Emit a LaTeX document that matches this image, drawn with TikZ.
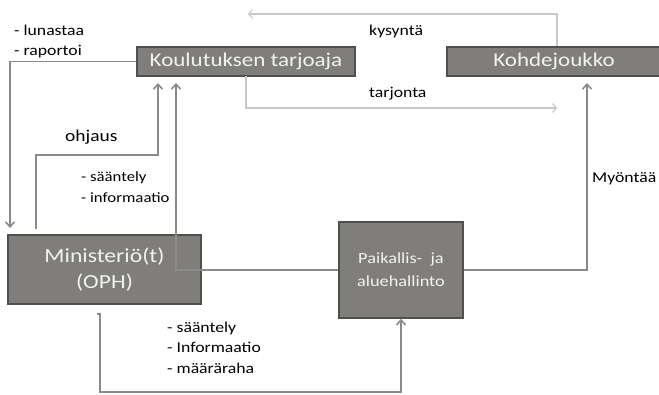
\documentclass[tikz,border=0pt]{standalone}
\usepackage{fontspec}
\setmainfont{Carlito}[FakeStretch=1.18]
\usetikzlibrary{arrows.meta}
\definecolor{boxgray}{HTML}{7F7E7B}
\definecolor{boxline}{HTML}{4F4F4F}
\definecolor{boxtext}{HTML}{F2F2F2}
\definecolor{arrgray}{HTML}{8A8A8A}
\definecolor{lightarr}{HTML}{C8C8C8}

\begin{document}
\begin{tikzpicture}[x=1pt, y=-1pt,
		box/.style = {draw=boxline, line width=1.6pt, fill=boxgray, text=boxtext, inner sep=0pt, align=center},
		flow/.style = {draw=arrgray, line width=1.8pt, -{Straight Barb[length=5pt, width=9pt, line width=1.6pt]}},
		market/.style = {draw=lightarr, line width=1.1pt, -{Straight Barb[length=4pt, width=9pt, line width=1pt]}},
		lbl/.style = {font=\fontsize{15}{20.5}\selectfont, align=left, inner sep=0pt}]
		\useasboundingbox (0,0) rectangle (659,394);
		\node[box, minimum width=218pt, minimum height=29pt, font=\fontsize{19.5}{22}\selectfont] (KT) at (246,61.5) {Koulutuksen tarjoaja};
		\node[box, minimum width=214pt, minimum height=29pt, font=\fontsize{19.5}{22}\selectfont] (KJ) at (554,61.5) {Kohdejoukko};
		\node[box, minimum width=193pt, minimum height=69pt, font=\fontsize{20}{26}\selectfont] (MIN) at (104.5,269.5) {Ministeriö(t)\\(OPH)};
		\node[box, minimum width=124pt, minimum height=96pt, font=\fontsize{15.5}{23}\selectfont] (PAI) at (401,270) {Paikallis- \ ja\\aluehallinto};
		\coordinate (kyAlku) at (557,47);
		\coordinate (kyLoppu) at (248,14);
		\coordinate (taAlku) at (246,76);
		\coordinate (taLoppu) at (557,108);
		\coordinate (ohAlku) at (36,229);
		\coordinate (ohLoppu) at (158,83);
		\coordinate (saLoppu) at (176,83);
		\coordinate (luLoppu) at (10,228);
		\coordinate (myLoppu) at (587,83);
		\coordinate (maAlku) at (97,314);
		% kysynta ja tarjonta
		\draw[market] (KJ.north -| kyAlku) |- (kyLoppu);
		\draw[market] (taAlku) |- (taLoppu);
		% ohjaus
		\draw[flow] (KT.west) -| (luLoppu);
		\draw[flow] (ohAlku) |- (100,155) -| (ohLoppu);
		\draw[flow] (PAI.west) -| (saLoppu);
		\draw[flow] (PAI.east) -| (myLoppu);
		\draw[flow] (maAlku) -- (100,314) |- (200,392) -| (PAI.south);
		% tekstit
		\node[lbl, anchor=base west] (lunastaa) at (14,55.5) {- lunastaa\\- raportoi};
		\node[lbl, anchor=base west, font=\fontsize{16.5}{18}\selectfont] (ohjaus) at (65,141) {ohjaus};
		\node[lbl, anchor=base west, font=\fontsize{14.2}{20.5}\selectfont] (saantely) at (81,202) {- sääntely\\- informaatio};
		\node[lbl, anchor=base west] (kysynta) at (369,35) {kysyntä};
		\node[lbl, anchor=base west] (tarjonta) at (369,97) {tarjonta};
		\node[lbl, anchor=base west] (myontaa) at (592,182) {Myöntää};
		\node[lbl, anchor=base west] (maararaha) at (167,373) {- sääntely\\- Informaatio\\- määräraha};
	\end{tikzpicture}
\end{document}
